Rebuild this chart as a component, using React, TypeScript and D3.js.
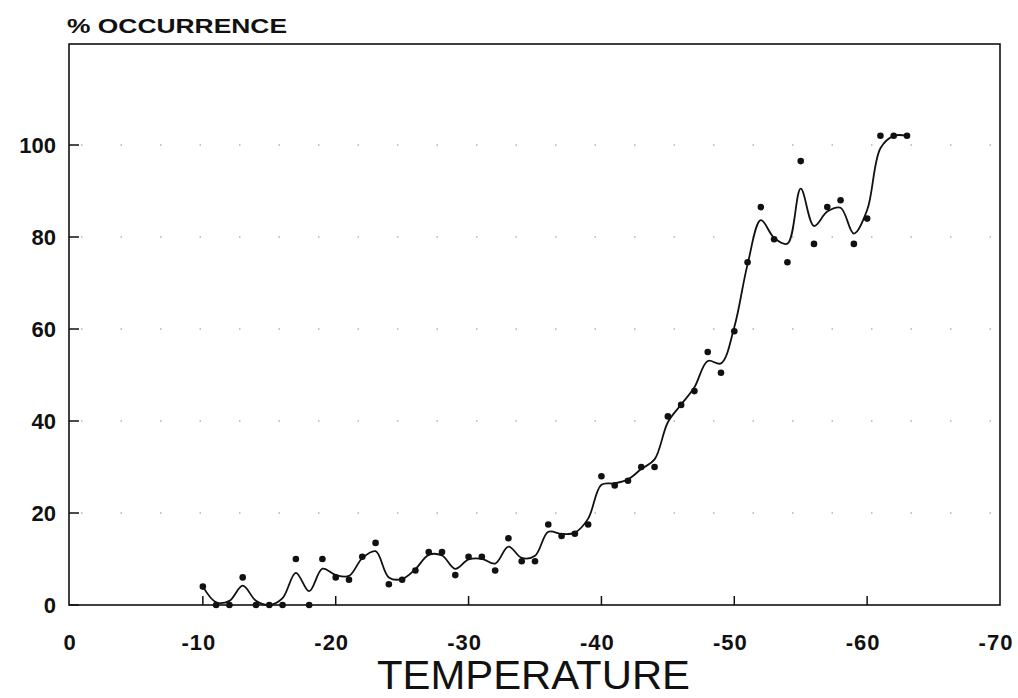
import React, { useEffect, useRef } from 'react';
import * as d3 from 'd3';

const temperatures: number[] = [
  -10, -11, -12, -13, -14, -15, -16, -17, -18, -19,
  -20, -21, -22, -23, -24, -25, -26, -27, -28, -29,
  -30, -31, -32, -33, -34, -35, -36, -37, -38, -39,
  -40, -41, -42, -43, -44, -45, -46, -47, -48, -49,
  -50, -51, -52, -53, -54, -55, -56, -57, -58, -59,
  -60, -61, -62, -63,
];

// % occurrence at each temperature
const occurrence: number[] = [
  4, 0, 0, 6, 0, 0, 0, 10, 0, 10,
  6, 5.5, 10.5, 13.5, 4.5, 5.5, 7.5, 11.5, 11.5, 6.5,
  10.5, 10.5, 7.5, 14.5, 9.5, 9.5, 17.5, 15, 15.5, 17.5,
  28, 26, 27, 30, 30, 41, 43.5, 46.5, 55, 50.5,
  59.5, 74.5, 86.5, 79.5, 74.5, 96.5, 78.5, 86.5, 88, 78.5,
  84, 102, 102, 102,
];

const xTicks: number[] = [0, -10, -20, -30, -40, -50, -60, -70];
const yTicks: number[] = [0, 20, 40, 60, 80, 100];

const FONT = '"Liberation Sans", Arial, Helvetica, sans-serif';

const App: React.FC = () => {
  const svgRef = useRef<SVGSVGElement>(null);

  useEffect(() => {
    document.body.style.margin = '0';
    const svg = d3.select(svgRef.current);
    svg.selectAll('*').remove();

    const width = 1018;
    const height = 698;
    const plot = { left: 69, right: 1000, top: 44, bottom: 605 };

    const x = d3.scaleLinear().domain([0, -70]).range([70, 1000]);
    const y = d3.scaleLinear().domain([0, 122]).range([plot.bottom, plot.bottom - 122 * 4.6]);

    svg.attr('width', width).attr('height', height);

    svg.append('rect')
      .attr('width', width).attr('height', height)
      .attr('fill', '#fff');

    // faint dotted grid lines
    svg.append('g')
      .selectAll('line')
      .data(yTicks.filter(d => d > 0))
      .enter()
      .append('line')
      .attr('x1', plot.left + 12)
      .attr('x2', plot.right - 4)
      .attr('y1', d => y(d))
      .attr('y2', d => y(d))
      .attr('stroke', '#888')
      .attr('stroke-width', 1)
      .attr('stroke-dasharray', '1.5,38');

    // frame
    svg.append('rect')
      .attr('x', plot.left)
      .attr('y', plot.top)
      .attr('width', plot.right - plot.left)
      .attr('height', plot.bottom - plot.top)
      .attr('fill', 'none')
      .attr('stroke', '#111')
      .attr('stroke-width', 1.6);

    // y ticks and labels
    const yAxis = svg.append('g');
    yAxis.selectAll('line')
      .data(yTicks)
      .enter()
      .append('line')
      .attr('x1', plot.left)
      .attr('x2', plot.left + 10)
      .attr('y1', d => y(d))
      .attr('y2', d => y(d))
      .attr('stroke', '#111')
      .attr('stroke-width', 1.5);
    yAxis.selectAll('text')
      .data(yTicks)
      .enter()
      .append('text')
      .attr('x', 56)
      .attr('y', d => y(d) + 8)
      .attr('text-anchor', 'end')
      .style('font-family', FONT)
      .style('font-size', '22px')
      .style('font-weight', 'bold')
      .style('fill', '#111')
      .text(d => String(d));

    // x ticks and labels
    const xAxis = svg.append('g');
    xAxis.selectAll('line')
      .data(xTicks.slice(1, -1))
      .enter()
      .append('line')
      .attr('x1', d => x(d))
      .attr('x2', d => x(d))
      .attr('y1', plot.bottom)
      .attr('y2', plot.bottom - 9)
      .attr('stroke', '#111')
      .attr('stroke-width', 1.5);
    xAxis.selectAll('text')
      .data(xTicks)
      .enter()
      .append('text')
      .attr('x', d => x(d) - (d === 0 ? 0 : 4))
      .attr('y', 650)
      .attr('text-anchor', 'middle')
      .style('font-family', FONT)
      .style('font-size', '22px')
      .style('font-weight', 'bold')
      .style('letter-spacing', '1px')
      .style('fill', '#111')
      .text(d => String(d));

    // axis titles
    svg.append('text')
      .attr('x', 67)
      .attr('y', 33)
      .attr('textLength', 220)
      .attr('lengthAdjust', 'spacingAndGlyphs')
      .style('font-family', FONT)
      .style('font-size', '21px')
      .style('font-weight', 'bold')
      .style('fill', '#111')
      .text('% OCCURRENCE');

    svg.append('text')
      .attr('x', 377)
      .attr('y', 689)
      .attr('textLength', 313)
      .attr('lengthAdjust', 'spacingAndGlyphs')
      .style('font-family', FONT)
      .style('font-size', '40px')
      .style('fill', '#111')
      .text('TEMPERATURE');

    // smoothed fit through the observations (3-point weighted running mean)
    const data = temperatures.map((t, i) => ({ t, v: occurrence[i] }));
    const smooth = data.map((d, i) => {
      if (i === 0 || i === data.length - 1) return d;
      const v = 0.15 * data[i - 1].v + 0.7 * d.v + 0.15 * data[i + 1].v;
      return { t: d.t, v };
    });

    const line = d3.line<{ t: number; v: number }>()
      .x(d => x(d.t))
      .y(d => y(d.v))
      .curve(d3.curveCatmullRom.alpha(0.5));

    svg.append('path')
      .datum(smooth)
      .attr('fill', 'none')
      .attr('stroke', '#111')
      .attr('stroke-width', 1.8)
      .attr('d', line);

    svg.append('g')
      .selectAll('circle')
      .data(data)
      .enter()
      .append('circle')
      .attr('cx', d => x(d.t))
      .attr('cy', d => y(d.v))
      .attr('r', 3.3)
      .attr('fill', '#111');
  }, []);

  return (
    <div style={{ position: 'absolute', left: 0, top: 0 }}>
      <svg ref={svgRef} style={{ display: 'block' }}></svg>
    </div>
  );
};

export default App;
